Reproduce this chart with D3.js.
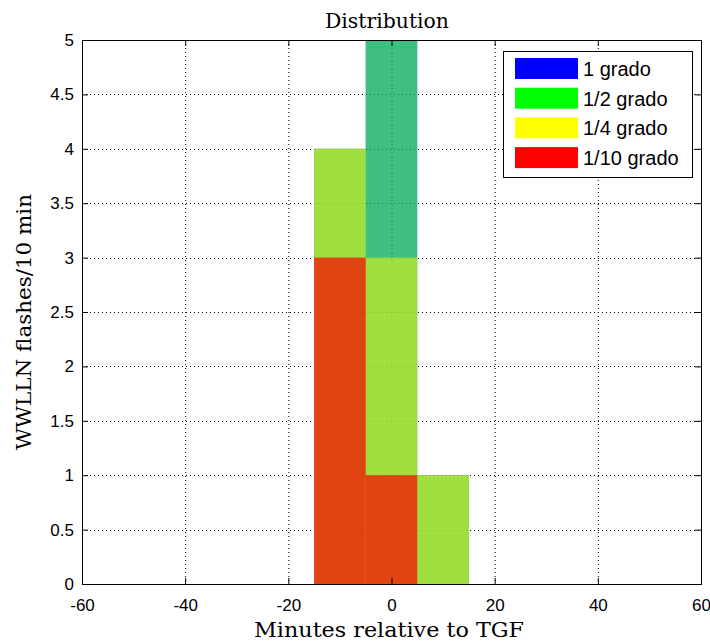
<!DOCTYPE html>
<html>
<head>
<meta charset="utf-8">
<script src="https://cdn.jsdelivr.net/npm/d3@7/dist/d3.min.js"></script>
<style>
  body { margin: 0; background: #fff; }
  .axis text { font-family: 'Liberation Sans', Arial, sans-serif; font-size: 17px; fill: #000; }
  .serif { font-family: 'DejaVu Serif', 'Liberation Serif', serif; font-size: 20px; fill: #000; }
  .legend text { font-family: 'Liberation Sans', Arial, sans-serif; font-size: 20px; fill: #000; }
</style>
</head>
<body>
<svg id="chart" width="710" height="644"></svg>
<script>
// 10 minute bins, centred on these values (minutes relative to TGF)
var binCenters = [-10, 0, 10]
var binWidth = 10

// flash counts per bin for each search radius
var seriesNames = ['1 grado', '1/2 grado', '1/4 grado', '1/10 grado']
var counts1Grado = [4, 5, 1]
var countsHalfGrado = [4, 5, 1]
var countsQuarterGrado = [4, 3, 1]
var countsTenthGrado = [3, 1, 0]

var seriesColors = ['#0000ff', '#00ff00', '#ffff00', '#ff0000']
var seriesOpacity = [0.5, 0.5, 0.5, 0.7]

var xTicks = [-60, -40, -20, 0, 20, 40, 60]
var yTicks = [0, 0.5, 1, 1.5, 2, 2.5, 3, 3.5, 4, 4.5, 5]

var margin = { top: 40, right: 9, bottom: 60, left: 82 }
var width = 710 - margin.left - margin.right
var height = 644 - margin.top - margin.bottom

var svg = d3.select('#chart')
var g = svg.append('g').attr('transform', 'translate(' + margin.left + ',' + margin.top + ')')

var x = d3.scaleLinear().domain([-60, 60]).range([0, width])
var y = d3.scaleLinear().domain([0, 5]).range([height, 0])

g.append('clipPath').attr('id', 'plot-clip')
  .append('rect').attr('width', width).attr('height', height)

// dotted grid, drawn under the (transparent) bars
var grid = g.append('g').attr('class', 'grid')
grid.selectAll('.gx').data(xTicks).enter().append('line')
  .attr('x1', function (d) { return x(d) + 0.5 })
  .attr('x2', function (d) { return x(d) + 0.5 })
  .attr('y1', 0).attr('y2', height)
grid.selectAll('.gy').data(yTicks).enter().append('line')
  .attr('x1', 0).attr('x2', width)
  .attr('y1', function (d) { return Math.round(y(d)) + 0.5 })
  .attr('y2', function (d) { return Math.round(y(d)) + 0.5 })
grid.selectAll('line')
  .attr('stroke', '#000').attr('stroke-width', 1).attr('stroke-dasharray', '1,3')

// one histogram per radius, overlaid
var series = [counts1Grado, countsHalfGrado, countsQuarterGrado, countsTenthGrado].map(function (counts, i) {
  return { name: seriesNames[i], color: seriesColors[i], opacity: seriesOpacity[i], counts: counts }
})

var bars = g.append('g').attr('clip-path', 'url(#plot-clip)')
series.forEach(function (s) {
  bars.append('g').selectAll('rect')
    .data(binCenters.map(function (c, j) { return { c: c, v: s.counts[j] } }).filter(function (d) { return d.v > 0 }))
    .enter().append('rect')
    .attr('x', function (d) { return x(d.c - binWidth / 2) })
    .attr('width', function (d) { return x(d.c + binWidth / 2) - x(d.c - binWidth / 2) })
    .attr('y', function (d) { return y(d.v) })
    .attr('height', function (d) { return y(0) - y(d.v) })
    .attr('fill', s.color)
    .attr('fill-opacity', s.opacity)
})

// axes with inward ticks on all four sides
var fmt = function (d) { return String(d) }
g.append('g').attr('class', 'axis')
  .attr('transform', 'translate(0,' + height + ')')
  .call(d3.axisBottom(x).tickValues(xTicks).tickSize(-6).tickPadding(15).tickFormat(fmt))
g.append('g').attr('class', 'axis')
  .call(d3.axisLeft(y).tickValues(yTicks).tickSize(-6).tickPadding(8).tickFormat(fmt))
g.append('g').attr('class', 'axis')
  .call(d3.axisTop(x).tickValues(xTicks).tickSize(-6).tickFormat(''))
g.append('g').attr('class', 'axis')
  .attr('transform', 'translate(' + width + ',0)')
  .call(d3.axisRight(y).tickValues(yTicks).tickSize(-6).tickFormat(''))
g.selectAll('.axis .domain').remove()
g.selectAll('.axis line').attr('stroke', '#000')

g.append('rect')
  .attr('x', 0.5).attr('y', 0.5)
  .attr('width', width).attr('height', height)
  .attr('fill', 'none').attr('stroke', '#000').attr('stroke-width', 1)

// titles
svg.append('text').attr('class', 'serif')
  .attr('x', 387).attr('y', 28)
  .attr('text-anchor', 'middle')
  .attr('textLength', 124).attr('lengthAdjust', 'spacingAndGlyphs')
  .text('Distribution')

svg.append('text').attr('class', 'serif')
  .attr('x', 389).attr('y', 637)
  .attr('text-anchor', 'middle')
  .attr('textLength', 270).attr('lengthAdjust', 'spacingAndGlyphs')
  .text('Minutes relative to TGF')

svg.append('text').attr('class', 'serif')
  .attr('transform', 'translate(31,322) rotate(-90)')
  .attr('text-anchor', 'middle')
  .attr('textLength', 256).attr('lengthAdjust', 'spacingAndGlyphs')
  .text('WWLLN flashes/10 min')

// legend
var legend = svg.append('g').attr('class', 'legend').attr('transform', 'translate(503,51)')
legend.append('rect')
  .attr('x', 0.5).attr('y', 0.5).attr('width', 189).attr('height', 126)
  .attr('fill', '#fff').attr('stroke', '#000')
var items = legend.selectAll('.item').data(series).enter().append('g')
  .attr('transform', function (d, i) { return 'translate(12,' + (7 + i * 29.7) + ')' })
items.append('rect')
  .attr('width', 63).attr('height', 21)
  .attr('fill', function (d) { return d.color })
items.append('text')
  .attr('x', 68).attr('y', 18)
  .text(function (d) { return d.name })
</script>
</body>
</html>
